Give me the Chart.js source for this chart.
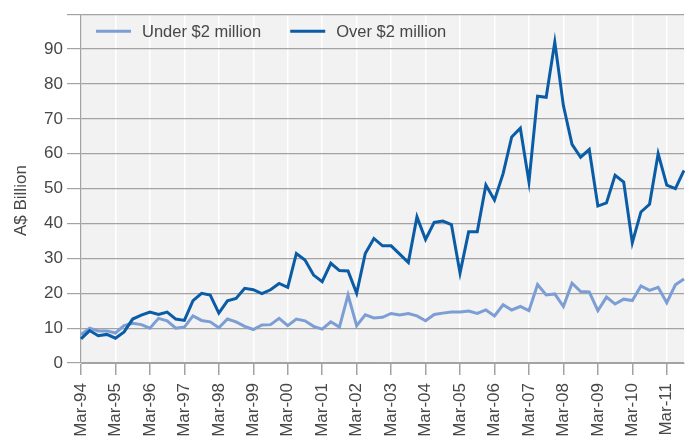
<!DOCTYPE html>
<html>
<head>
<meta charset="utf-8">
<script src="https://cdn.jsdelivr.net/npm/chart.js@4"></script>
<style>
  html, body { margin: 0; padding: 0; background: #fff; }
  #wrap { width: 685px; height: 441px; }
</style>
</head>
<body>
<div id="wrap"><canvas id="myChart" width="685" height="441"></canvas></div>
<script>
// quarterly, Mar-94 to Sep-11
const months = ['Mar', 'Jun', 'Sep', 'Dec'];
const years = ['94', '95', '96', '97', '98', '99', '00', '01', '02', '03', '04', '05', '06', '07', '08', '09', '10', '11'];

const underValues = [
    8.1, 10.0, 9.2, 9.2, 8.6, 10.7, 11.4, 11.0, 10.0, 12.8, 12.1, 10.0,
    10.3, 13.5, 12.2, 11.8, 10.1, 12.6, 11.8, 10.5, 9.6, 10.9, 11.0, 12.8,
    10.7, 12.6, 12.1, 10.5, 9.7, 11.8, 10.3, 19.5, 10.7, 13.8, 12.9, 13.1,
    14.2, 13.8, 14.2, 13.5, 12.1, 13.9, 14.3, 14.6, 14.6, 14.9, 14.2, 15.2,
    13.5, 16.7, 15.2, 16.2, 15.0, 22.5, 19.5, 19.8, 16.2, 22.9, 20.5, 20.4,
    15.0, 18.9, 16.9, 18.3, 17.9, 22.1, 20.8, 21.7, 17.3, 22.4, 24.1
];
const overValues = [
    6.9, 9.3, 7.8, 8.2, 7.1, 8.9, 12.6, 13.7, 14.6, 13.9, 14.6, 12.6,
    12.2, 17.9, 20.0, 19.5, 14.3, 17.8, 18.5, 21.4, 21.0, 19.9, 21.0, 22.8,
    21.7, 31.4, 29.5, 25.2, 23.3, 28.6, 26.5, 26.4, 20.0, 31.4, 35.7, 33.6,
    33.6, 31.2, 28.8, 41.9, 35.4, 40.3, 40.7, 39.7, 25.8, 37.6, 37.6, 51.0,
    46.7, 54.3, 64.8, 67.3, 51.9, 76.5, 76.2, 92.0, 73.8, 62.7, 59.0, 61.2,
    45.0, 45.9, 53.8, 51.9, 34.5, 43.3, 45.5, 60.0, 51.0, 50.0, 55.2
];

const labels = [];
years.forEach(y => months.forEach(m => labels.push(m + '-' + y)));
labels.length = underValues.length;

const fontFamily = '"Liberation Sans", Arial, Helvetica, sans-serif';
const textColor = '#474747';
const gridGray = '#a3a3a3';

const plotBackground = {
    id: 'plotBackground',
    beforeDraw(chart) {
        const { ctx, chartArea } = chart;
        ctx.save();
        ctx.fillStyle = '#f2f2f2';
        ctx.fillRect(chartArea.left, chartArea.top, chartArea.right - chartArea.left, chartArea.bottom - chartArea.top);
        ctx.restore();
    }
};

// legend sits inside the plot, top left; axis title sits a bit below centre
const legendInside = {
    id: 'legendInside',
    afterDatasetsDraw(chart) {
        const { ctx, chartArea } = chart;
        let x = chartArea.left + 15;
        const y = chartArea.top + 17;
        ctx.save();
        ctx.font = '16.5px ' + fontFamily;
        ctx.textBaseline = 'middle';
        chart.data.datasets.forEach(ds => {
            ctx.strokeStyle = ds.borderColor;
            ctx.lineWidth = 3;
            ctx.beginPath();
            ctx.moveTo(x, y);
            ctx.lineTo(x + 35, y);
            ctx.stroke();
            ctx.fillStyle = textColor;
            ctx.fillText(ds.label, x + 46, y + 1);
            x += 46 + ctx.measureText(ds.label).width + 29;
        });

        ctx.translate(21, chartArea.top + (chartArea.bottom - chartArea.top) / 2 + 12);
        ctx.rotate(-Math.PI / 2);
        ctx.font = '17px ' + fontFamily;
        ctx.textAlign = 'center';
        ctx.fillText('A$ Billion', 0, 0);
        ctx.restore();
    }
};

const ctx = document.getElementById('myChart').getContext('2d');
const myChart = new Chart(ctx, {
    type: 'line',
    data: {
        labels: labels,
        datasets: [{
            label: 'Under $2 million',
            data: underValues,
            borderColor: '#7c9ed4',
            borderWidth: 3,
            pointRadius: 0,
            tension: 0,
            order: 1
        }, {
            label: 'Over $2 million',
            data: overValues,
            borderColor: '#0a5ca6',
            borderWidth: 3,
            pointRadius: 0,
            tension: 0,
            borderJoinStyle: 'miter',
            order: 0
        }]
    },
    options: {
        responsive: false,
        animation: false,
        layout: { padding: { top: 13, right: 1, left: 0, bottom: 0 } },
        plugins: {
            legend: { display: false },
            tooltip: { enabled: false }
        },
        scales: {
            x: {
                afterFit: (scale) => {
                    scale.height = 78;
                    scale.paddingLeft = 0;
                    scale.paddingRight = 0;
                },
                grid: {
                    color: (c) => (c.index % 4 === 0 && c.index > 0) ? '#ffffff' : 'rgba(0,0,0,0)',
                    tickColor: (c) => (c.index % 4 === 0) ? gridGray : 'rgba(0,0,0,0)',
                    tickLength: 12,
                    lineWidth: 1.5
                },
                border: { color: gridGray, width: 1 },
                ticks: {
                    autoSkip: false,
                    minRotation: 90,
                    maxRotation: 90,
                    padding: 8,
                    color: textColor,
                    font: { family: fontFamily, size: 17 },
                    callback: function (val, i) { return i % 4 === 0 ? labels[i] : ''; }
                }
            },
            y: {
                min: 0,
                max: 100,
                afterFit: (scale) => { scale.width = 81; },
                grid: { color: gridGray, tickLength: 14, lineWidth: 1.2 },
                border: { color: gridGray, width: 1.2 },
                ticks: {
                    stepSize: 10,
                    padding: 4,
                    color: textColor,
                    font: { family: fontFamily, size: 17 },
                    callback: (v) => v >= 100 ? '' : v
                }
            }
        }
    },
    plugins: [plotBackground, legendInside]
});
</script>
</body>
</html>
